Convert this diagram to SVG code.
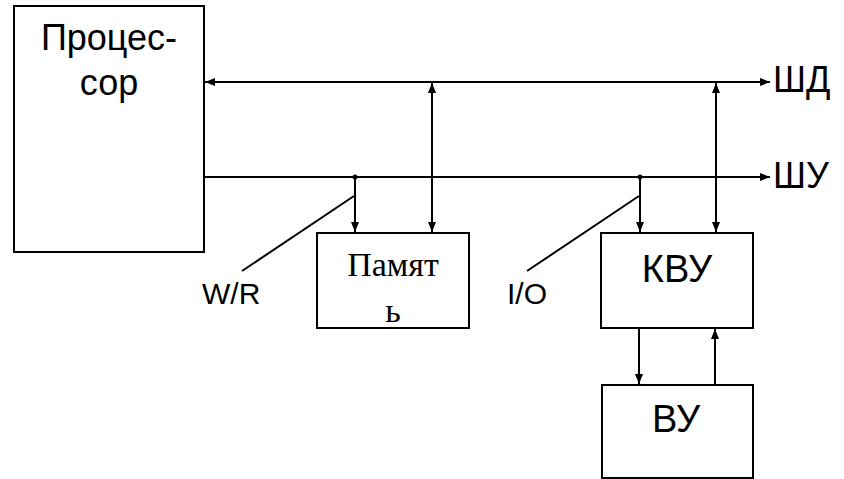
<svg xmlns="http://www.w3.org/2000/svg" width="844" height="479" viewBox="0 0 844 479">
<defs>
<marker id="ah" viewBox="0 0 10 8" refX="10" refY="4" markerWidth="10" markerHeight="8" markerUnits="userSpaceOnUse" orient="auto-start-reverse">
<path d="M0,0 L10,4 L0,8 Z" fill="#000"/>
</marker>
</defs>
<style>
.box{fill:#fff;stroke:#000;stroke-width:2}
.ln{stroke:#000;stroke-width:2;fill:none}
.t{font-family:"Liberation Sans",Arial,sans-serif;fill:#000}
.s{font-family:"Liberation Serif","Times New Roman",serif;fill:#000}
</style>
<rect width="844" height="479" fill="#fff"/>
<g id="connectors">
<line class="ln" x1="205" y1="82" x2="770" y2="82" marker-start="url(#ah)" marker-end="url(#ah)"/>
<line class="ln" x1="205" y1="177" x2="770" y2="177" marker-end="url(#ah)"/>
<line class="ln" x1="355" y1="177" x2="355" y2="232" marker-end="url(#ah)"/>
<line class="ln" x1="432" y1="83" x2="432" y2="232" marker-start="url(#ah)" marker-end="url(#ah)"/>
<line class="ln" x1="640" y1="177" x2="640" y2="232" marker-end="url(#ah)"/>
<line class="ln" x1="716" y1="83" x2="716" y2="232" marker-start="url(#ah)" marker-end="url(#ah)"/>
<line class="ln" x1="639" y1="329" x2="639" y2="384" marker-end="url(#ah)"/>
<line class="ln" x1="715" y1="384" x2="715" y2="329" marker-end="url(#ah)"/>
<circle cx="355" cy="177" r="2.5" fill="#000"/>
<circle cx="640" cy="177" r="2.5" fill="#000"/>
<line class="ln" x1="354" y1="196" x2="242" y2="271"/>
<line class="ln" x1="639" y1="196" x2="527" y2="271"/>
<text class="t" x="202" y="304" font-size="30">W/R</text>
<text class="t" x="507" y="304" font-size="30">I/O</text>
<text class="t" x="773" y="92" font-size="36">ШД</text>
<text class="t" x="773" y="188" font-size="36">ШУ</text>
</g>
<g id="processor">
<rect class="box" x="14" y="6" width="190" height="246"/>
<text class="t" x="109" y="50" font-size="36" text-anchor="middle">Процес-</text>
<text class="t" x="109" y="95" font-size="36" text-anchor="middle">сор</text>
</g>
<g id="memory">
<rect class="box" x="317" y="233" width="152" height="95"/>
<text class="s" x="393" y="276" font-size="34" text-anchor="middle">Памят</text>
<text class="s" x="393" y="322" font-size="34" text-anchor="middle">ь</text>
</g>
<g id="kvu">
<rect class="box" x="601" y="233" width="152" height="95"/>
<text class="t" x="677" y="282" font-size="38" text-anchor="middle">КВУ</text>
</g>
<g id="vu">
<rect class="box" x="602" y="385" width="151" height="93"/>
<text class="t" x="676" y="432" font-size="38" text-anchor="middle">ВУ</text>
</g>
</svg>
